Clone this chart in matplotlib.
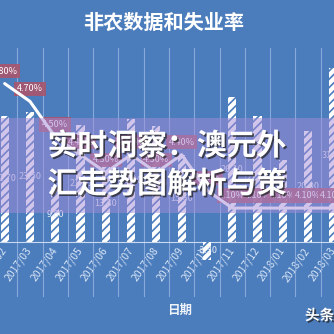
import matplotlib
matplotlib.use('Agg')
import matplotlib.pyplot as plt
import matplotlib.patheffects as pe
from matplotlib.patches import Rectangle
import numpy as np

# ---------------- data ----------------
dates = ['2017/02', '2017/03', '2017/04', '2017/05', '2017/06', '2017/07', '2017/08',
         '2017/09', '2017/10', '2017/11', '2017/12', '2018/01', '2018/02', '2018/03']
nonfarm = [22.7, 23.5, 9.8, 21.1, 13.8, 22.2, 20.9, 15.6, -3.3, 26.1, 22.8, 14.8, 20.0, 31.3]
unemployment = [4.8, 4.7, 4.5, 4.4, 4.3, 4.4, 4.3, 4.4, 4.2, 4.1, 4.1, 4.1, 4.1, 4.1]
title = '非农数据和失业率'
overlay_lines = ['实时洞察：澳元外', '汇走势图解析与策']
xlabel = '日期'
watermark = '头条'

# ---------------- style ----------------
BG = '#4b7cbc'
plt.rcParams['font.family'] = ['Noto Sans CJK SC', 'DejaVu Sans']
plt.rcParams['hatch.linewidth'] = 1.2

W = H = 334
fig = plt.figure(figsize=(3.34, 3.34), dpi=100, facecolor=BG)


def px(x0, y0, w, h):
    return [x0 / W, 1 - (y0 + h) / H, w / W, h / H]


ax = fig.add_axes(px(-8, 48, 354, 249))
ax.set_facecolor('none')
for s in ['top', 'left', 'right']:
    ax.spines[s].set_visible(False)
ax.spines['bottom'].set_position(('data', 0))
ax.spines['bottom'].set_color('#c9d9ef')
ax.spines['bottom'].set_linewidth(0.8)

x = np.arange(len(dates))
bars = ax.bar(x, nonfarm, width=0.32, color='white', edgecolor=BG, hatch='////',
              linewidth=0, zorder=3)
ax.bar_label(bars, labels=[f'{v:.2f}' for v in nonfarm], label_type='center',
             fontsize=6.5, color='#e4ecf7', zorder=4)
ax.set_xlim(-0.5, len(dates) - 0.5)
ax.set_ylim(-10, 35)
ax.set_yticks([])
ax.set_xticks(np.arange(-0.5, len(dates)), minor=True)
ax.grid(axis='x', which='minor', color='#86a9da', lw=0.8)
ax.set_axisbelow(True)
ax.set_xticks(x)
ax.tick_params(axis='x', which='both', length=0, pad=5)
ax.set_xticklabels(dates, rotation=55, ha='right', va='center', rotation_mode='anchor',
                   fontsize=7.5, color='#d8e5f6')

ax2 = ax.twinx()
ax2.set_ylim(3.6, 5.0)
ax2.plot(x, unemployment, color='white', lw=2.2, solid_capstyle='round',
         solid_joinstyle='round', zorder=5)
for xi, v in zip(x, unemployment):
    ax2.annotate(f'{v:.2f}%', (xi, v), xytext=(0, 9), textcoords='offset points',
                 ha='center', va='center', fontsize=6.5, color='white',
                 bbox=dict(boxstyle='square,pad=0.3', fc='#a9566c', ec='none', alpha=0.9))
ax2.axis('off')

# overlay band and text
band = Rectangle((0, 1 - 213 / H), 1, 95 / H, transform=fig.transFigure,
                 fc='#a48cd8', ec='none', alpha=0.5, zorder=10)
fig.add_artist(band)
shadow = [pe.withSimplePatchShadow(offset=(1.2, -1.2), shadow_rgbFace='#222222', alpha=0.75)]
fig.text(0.5, 1 - 146 / H, overlay_lines[0], ha='center', va='center', fontsize=21.5,
         weight='heavy', color='white', path_effects=shadow, zorder=11)
fig.text(0.5, 1 - 184 / H, overlay_lines[1], ha='center', va='center', fontsize=21.5,
         weight='heavy', color='white', path_effects=shadow, zorder=11)

fig.text(164 / W, 1 - 22 / H, title, ha='center', va='center', fontsize=14.5,
         weight='bold', color='white')
fig.text(180 / W, 1 - 310 / H, xlabel, ha='center', va='center', fontsize=9,
         weight='bold', color='#eef3fa')
fig.text(305 / W, 1 - 315 / H, watermark, ha='left', va='center', fontsize=10.5,
         weight='bold', color='white', path_effects=shadow, zorder=11)

fig.savefig('out.png', dpi=100, facecolor=BG)
